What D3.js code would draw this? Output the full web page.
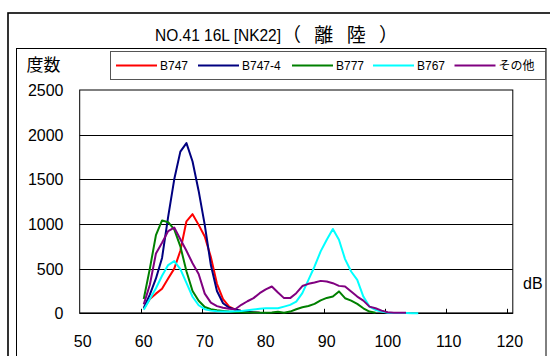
<!DOCTYPE html>
<html>
<head>
<meta charset="utf-8">
<script src="https://cdn.jsdelivr.net/npm/d3@7"></script>
<style>
html,body{margin:0;padding:0;background:#fff;}
svg{display:block;}
text{font-family:"Liberation Sans","Noto Sans CJK JP",sans-serif;fill:#000;}
</style>
</head>
<body>
<div id="chart"></div>
<script>
// ---- data ----
const titleMain = "NO.41 16L [NK22]";
const titleSub = "（離陸）";
const yLabel = "度数";
const xUnit = "dB";
const categories = [50,51,52,53,54,55,56,57,58,59,60,61,62,63,64,65,66,67,68,69,70,71,72,73,74,75,76,77,78,79,80,81,82,83,84,85,86,87,88,89,90,91,92,93,94,95,96,97,98,99,100,101,102,103,104,105,106,107,108,109,110,111,112,113,114,115,116,117,118,119,120];
const xTickLabels = [50,60,70,80,90,100,110,120];
const yTickLabels = [0,500,1000,1500,2000,2500];
const seriesNames = ["B747","B747-4","B777","B767","その他"];
const seriesColors = ["#ff0000","#000080","#008000","#00ffff","#800080"];
const startDb = 60;
const b747 = [50,160,220,275,390,500,700,1030,1110,990,860,630,330,160,75,42,27,18,10,5,2];
const b747_4 = [60,210,390,620,1080,1500,1810,1905,1700,1370,990,540,250,112,62,42,27,18,10,5,2];
const b777 = [160,500,875,1040,1020,940,750,470,250,140,70,46,35,27,20,15,12,10,8,6,5,8,18,5,19,45,67,82,105,145,172,187,245,169,142,105,56,19,5];
const b767 = [40,160,280,420,540,585,495,340,185,90,46,30,23,19,19,23,27,35,42,50,56,56,56,75,94,131,225,375,524,693,824,944,824,607,468,375,187,75,37,19,7,3,2,2,1,1];
const other = [100,320,670,790,920,960,830,700,560,440,220,120,80,62,50,45,95,135,170,225,268,300,232,170,170,225,305,330,345,363,355,337,307,300,243,187,142,75,56,30,12,7,5,5];
const seriesValues = [b747,b747_4,b777,b767,other];

// ---- layout ----
const W = 550, H = 356;
const plot = {left:79.7, right:512.8, top:90, bottom:313.3};

const svg = d3.select("#chart").append("svg").attr("width",W).attr("height",H);
svg.append("rect").attr("width",W).attr("height",H).attr("fill","#fff");

// outer frames
svg.append("rect").attr("x",8).attr("y",13).attr("width",560).attr("height",360)
  .attr("fill","none").attr("stroke","#000").attr("stroke-width",1.6);
svg.append("rect").attr("x",16.5).attr("y",48.5).attr("width",529.5).attr("height",330)
  .attr("fill","none").attr("stroke","#000").attr("stroke-width",1);

// title (two parts)
svg.append("text").attr("x",155).attr("y",41)
  .attr("textLength",126).attr("lengthAdjust","spacingAndGlyphs")
  .style("font-size","17px").text(titleMain);
svg.append("text").attr("x",282).attr("y",41.5)
  .attr("textLength",116).attr("lengthAdjust","spacing")
  .style("font-size","19px").style("font-family","'Noto Sans CJK JP'").text(titleSub);

// y label
svg.append("text").attr("x",26.5).attr("y",71).style("font-size","17px")
  .style("font-family","'Noto Sans CJK JP'").text(yLabel);

// scales
const x = d3.scaleBand().domain(categories).range([plot.left, plot.right]).paddingInner(0).paddingOuter(0);
const y = d3.scaleLinear().domain([0,2500]).range([plot.bottom, plot.top]);

// plot area
svg.append("rect").attr("x",plot.left).attr("y",plot.top)
  .attr("width",plot.right-plot.left).attr("height",plot.bottom-plot.top)
  .attr("fill","#fff").attr("stroke","#000").attr("stroke-width",1);

// gridlines
svg.append("g").selectAll("line").data(yTickLabels.filter(v=>v>0 && v<2500)).join("line")
  .attr("x1",plot.left).attr("x2",plot.right)
  .attr("y1",d=>Math.round(y(d))+0.5).attr("y2",d=>Math.round(y(d))+0.5)
  .attr("stroke","#000").attr("stroke-width",1);

// y axis labels
svg.append("g").selectAll("text").data(yTickLabels).join("text")
  .attr("x",63.5).attr("y",d=>y(d)+6).attr("text-anchor","end")
  .style("font-size","16px").text(d=>d);

// x axis line + ticks
svg.append("line").attr("x1",plot.left).attr("x2",plot.right)
  .attr("y1",plot.bottom).attr("y2",plot.bottom).attr("stroke","#000").attr("stroke-width",1.5);
svg.append("g").selectAll("line").data(xTickLabels.filter(v=>v>50)).join("line")
  .attr("x1",d=>Math.round(x(d))+0.5).attr("x2",d=>Math.round(x(d))+0.5)
  .attr("y1",plot.bottom).attr("y2",plot.bottom-4.5)
  .attr("stroke","#000").attr("stroke-width",1);
svg.append("g").selectAll("text").data(xTickLabels).join("text")
  .attr("x",d=>x(d)+x.bandwidth()/2).attr("y",347).attr("text-anchor","middle")
  .style("font-size","16px").text(d=>d);

// unit
svg.append("text").attr("x",523).attr("y",289).style("font-size","16px").text(xUnit);

// series lines
const line = d3.line().x(d=>x(d[0])+x.bandwidth()/2).y(d=>y(d[1]));
const g = svg.append("g");
seriesValues.forEach((vals,i)=>{
  const pts = vals.map((v,j)=>[categories[categories.indexOf(startDb)+j], v]);
  g.append("path").datum(pts).attr("d",line).attr("fill","none")
    .attr("stroke",seriesColors[i]).attr("stroke-width",2).attr("stroke-linejoin","round");
});

// legend
svg.append("rect").attr("x",110.5).attr("y",51.5).attr("width",435).attr("height",28)
  .attr("fill","#fff").attr("stroke","#555").attr("stroke-width",1);
const legX = [116,198,292,373,454.5];
const lg = svg.append("g").selectAll("g").data(seriesNames).join("g")
  .attr("transform",(d,i)=>`translate(${legX[i]},65.5)`);
lg.append("line").attr("x1",0).attr("x2",41).attr("y1",0).attr("y2",0)
  .attr("stroke",(d,i)=>seriesColors[i]).attr("stroke-width",2);
lg.append("text").attr("x",44).attr("y",4.3).style("font-size","12px").text(d=>d);
</script>
</body>
</html>
